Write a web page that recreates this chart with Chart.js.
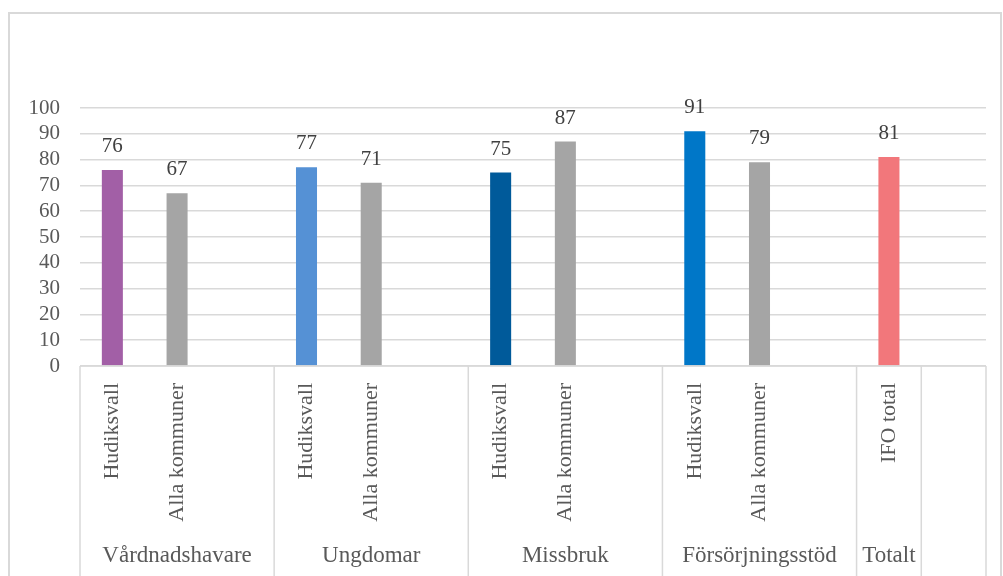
<!DOCTYPE html>
<html>
<head>
<meta charset="utf-8">
<script src="https://cdn.jsdelivr.net/npm/chart.js@4/dist/chart.umd.min.js"></script>
<style>
  html, body { margin: 0; padding: 0; background: #ffffff; }
  #wrap { position: absolute; left: 0; top: 0; width: 1003px; height: 576px; }
</style>
</head>
<body>
<div id="wrap"><canvas id="grafico"></canvas></div>
<script>
// Datos del grafico
const etiquetas = ["Hudiksvall", "Alla kommuner", "", "Hudiksvall", "Alla kommuner", "", "Hudiksvall", "Alla kommuner", "", "Hudiksvall", "Alla kommuner", "", "IFO total", ""];
const valores = [76, 67, null, 77, 71, null, 75, 87, null, 91, 79, null, 81, null];
const colores = ["#A25FA6", "#A5A5A5", "#ffffff", "#5591D5", "#A5A5A5", "#ffffff", "#005A9A", "#A5A5A5", "#ffffff", "#0077C8", "#A5A5A5", "#ffffff", "#F2777B", "#ffffff"];
const grupos = ["Vårdnadshavare", "Ungdomar", "Missbruk", "Försörjningsstöd", "Totalt", ""];
const tamanoGrupos = [3, 3, 3, 3, 1, 1];
const ticksY = [0, 10, 20, 30, 40, 50, 60, 70, 80, 90, 100];

const fuente = "'Liberation Serif', 'DejaVu Serif', serif";
const gris = "#d9d9d9";

// Plugin que pinta marco, separadores, grupos y valores
const extras = {
  id: "extras",
  beforeDraw(chart) {
    const ctx = chart.ctx;
    ctx.save();
    ctx.strokeStyle = gris;
    ctx.lineWidth = 2;
    ctx.strokeRect(9, 13, chart.width - 11, chart.height + 20);
    ctx.restore();
  },
  afterDraw(chart) {
    const ctx = chart.ctx;
    const x = chart.scales.x;
    const area = chart.chartArea;
    const ancho = x.getPixelForValue(1) - x.getPixelForValue(0);
    ctx.save();
    // linea del eje
    ctx.strokeStyle = gris;
    ctx.lineWidth = 1.5;
    ctx.beginPath();
    ctx.moveTo(area.left, area.bottom);
    ctx.lineTo(area.right, area.bottom);
    ctx.stroke();
    // separadores de grupos y nombres
    let idx = 0;
    ctx.font = "23px " + fuente;
    ctx.fillStyle = "#595959";
    ctx.textAlign = "center";
    ctx.textBaseline = "alphabetic";
    for (let g = 0; g < grupos.length; g++) {
      const izq = x.getPixelForValue(idx) - ancho / 2;
      const der = x.getPixelForValue(idx + tamanoGrupos[g] - 1) + ancho / 2;
      ctx.beginPath();
      ctx.moveTo(izq, area.bottom);
      ctx.lineTo(izq, chart.height);
      ctx.stroke();
      if (g == grupos.length - 1) {
        ctx.beginPath();
        ctx.moveTo(der, area.bottom);
        ctx.lineTo(der, chart.height);
        ctx.stroke();
      }
      ctx.fillText(grupos[g], (izq + der) / 2, area.bottom + 196);
      idx += tamanoGrupos[g];
    }
    // valores sobre las barras
    ctx.font = "21px " + fuente;
    ctx.fillStyle = "#404040";
    const meta = chart.getDatasetMeta(0);
    meta.data.forEach((barra, i) => {
      if (valores[i] == null) return;
      ctx.fillText(String(valores[i]), barra.x, barra.y - 18);
    });
    ctx.restore();
  }
};

new Chart(document.getElementById("grafico"), {
  type: "bar",
  data: {
    labels: etiquetas,
    datasets: [
      {
        data: valores,
        backgroundColor: colores,
        barPercentage: 0.325,
        categoryPercentage: 1
      }
    ]
  },
  options: {
    responsive: true,
    maintainAspectRatio: false,
    animation: false,
    layout: { padding: { top: 108, right: 17, left: 0, bottom: 0 } },
    plugins: { legend: { display: false }, tooltip: { enabled: false } },
    scales: {
      x: {
        grid: { display: false },
        border: { display: false },
        afterFit: (scale) => { scale.height = 210; },
        ticks: {
          autoSkip: false,
          minRotation: 90,
          maxRotation: 90,
          padding: 9,
          color: "#595959",
          font: { family: fuente, size: 22 }
        }
      },
      y: {
        min: 0,
        max: 100,
        afterFit: (scale) => { scale.width = 80; },
        afterBuildTicks: (scale) => { scale.ticks = ticksY.map((v) => ({ value: v })); },
        border: { display: false },
        grid: { color: gris, lineWidth: 1.5, drawTicks: false },
        ticks: {
          autoSkip: false,
          padding: 20,
          color: "#595959",
          font: { family: fuente, size: 21 }
        }
      }
    }
  },
  plugins: [extras]
});
</script>
</body>
</html>
